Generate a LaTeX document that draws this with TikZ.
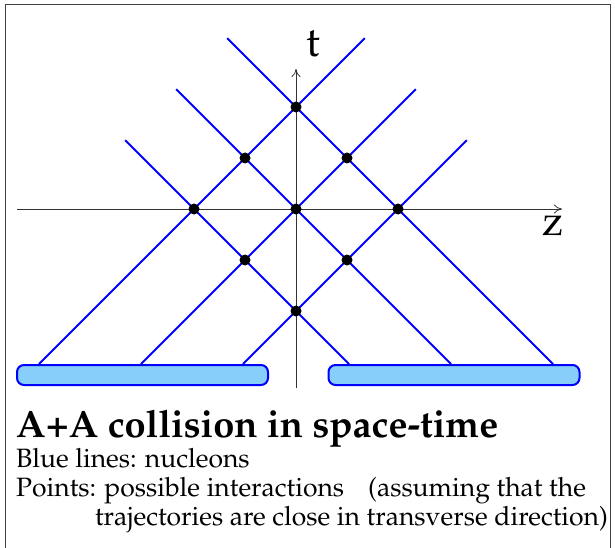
\documentclass[tikz,border=0pt]{standalone}
\usepackage[T1]{fontenc}
\usepackage{mathpazo}
\usepackage{xcolor}
\usetikzlibrary{positioning,arrows.meta}
\definecolor{slabfill}{RGB}{135,206,250}

\begin{document}
\begin{tikzpicture}[x=1pt,y=-1pt]
  \tikzstyle{nuc}=[blue,line width=2pt]
  \tikzstyle{slab}=[draw=blue,line width=2pt,fill=slabfill,rounded corners=7pt,inner sep=0pt]
  \tikzstyle{hit}=[circle,fill=black,inner sep=0pt,minimum size=11pt]
  \tikzstyle{ax}=[black!80,line width=0.8pt,-{To[length=8pt,width=9pt]}]
  \tikzstyle{txt}=[inner sep=0pt,font=\fontsize{26.5}{30}\selectfont]
  \useasboundingbox (0,0) rectangle (615,548);
  \draw[black!75,line width=1.5pt] (5.5,4.5) rectangle (610.5,552);
  % axes
  \coordinate (zs) at (17,209);  \coordinate (ze) at (562,209);
  \coordinate (ts) at (296,388); \coordinate (te) at (296,69);
  \draw[ax] (zs) -- (ze);
  \draw[ax] (ts) -- (te);
  \node[font=\fontsize{42}{42}\selectfont] (zl) at (553,226) {z};
  \node[font=\fontsize{42}{42}\selectfont] (tl) at (313,44) {t};
  % the two nuclei
  \node[slab,minimum width=251pt,minimum height=20pt] (al) at (142.5,375) {};
  \node[slab,minimum width=251pt,minimum height=20pt] (ar) at (454,375) {};
  % nucleon lines and interaction points
  \begin{scope}[shift={(296,209)},x=51pt,y=51pt]
    \foreach \c/\e [count=\i] in {2/1.35,0/2.35,-2/3.35} {
      \coordinate (ls\i) at ({-3.04-\c},-3.04);
      \coordinate (le\i) at (\e,{\e+\c});
      \coordinate (rs\i) at ({3.04+\c},-3.04);
      \coordinate (re\i) at (-\e,{\e+\c});
      \draw[nuc] (ls\i) -- (le\i);
      \draw[nuc] (rs\i) -- (re\i);
    }
    \foreach \p/\q [count=\n] in {0/2,-1/1,1/1,-2/0,0/0,2/0,-1/-1,1/-1,0/-2}
      \node[hit] (p\n) at (\p,\q) {};
  \end{scope}
  % caption
  \node[inner sep=0pt,anchor=base west,font=\fontsize{38}{40}\bfseries\selectfont] (title) at (16,437) {A+A collision in space-time};
  \node[txt,anchor=base west] (c1) at (16,467) {Blue lines: nucleons};
  \node[txt,anchor=base west] (c2) at (16,496) {Points: possible interactions\hspace{24pt}(assuming that the};
  \node[txt,anchor=base east] (c3) at (608,525) {trajectories are close in transverse direction)};
\end{tikzpicture}
\end{document}
